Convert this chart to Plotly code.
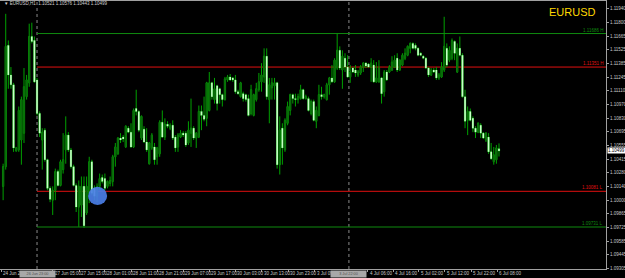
import plotly.graph_objects as go

# ---------------- data (EURUSD H1) ----------------
opens = [
    1.1014, 1.1034, 1.1157, 1.1127, 1.1117, 1.1050, 1.1051, 1.1061, 1.1068, 1.1105,
    1.1119, 1.1166, 1.1162, 1.1122, 1.1088, 1.1061, 1.1071, 1.1041, 1.1012, 1.1000,
    1.1010, 1.1029, 1.1015, 1.1031, 1.1051, 1.1066, 1.1051, 1.1034, 1.1015, 1.0993,
    1.0995, 1.1014, 1.0987, 1.1007, 1.1039, 1.1012, 1.1004, 1.1014, 1.1023, 1.1022,
    1.1014, 1.1017, 1.1019, 1.1044, 1.1047, 1.1063, 1.1064, 1.1054, 1.1073, 1.1069,
    1.1054, 1.1093, 1.1090, 1.1063, 1.1072, 1.1059, 1.1037, 1.1053, 1.1054, 1.1044,
    1.1047, 1.1079, 1.1064, 1.1077, 1.1073, 1.1076, 1.1064, 1.1054, 1.1064, 1.1068,
    1.1068, 1.1058, 1.1068, 1.1073, 1.1063, 1.1064, 1.1090, 1.1086, 1.1083, 1.1091,
    1.1119, 1.1102, 1.1116, 1.1113, 1.1107, 1.1102, 1.1122, 1.1125, 1.1124, 1.1122,
    1.1110, 1.1105, 1.1108, 1.1107, 1.1103, 1.1088, 1.1086, 1.1102, 1.1112, 1.1120,
    1.1125, 1.1146, 1.1102, 1.1114, 1.1116, 1.1119, 1.1036, 1.1073, 1.1051, 1.1078,
    1.1091, 1.1107, 1.1103, 1.1102, 1.1103, 1.1112, 1.1103, 1.1103, 1.1088, 1.1100,
    1.1080, 1.1086, 1.1107, 1.1105, 1.1102, 1.1117, 1.1124, 1.1120, 1.1134, 1.1152,
    1.1132, 1.1144, 1.1135, 1.1125, 1.1134, 1.1132, 1.1127, 1.1129, 1.1135, 1.1139,
    1.1138, 1.1135, 1.1137, 1.1120, 1.1120, 1.1124, 1.1110, 1.1130, 1.1130, 1.1132,
    1.1135, 1.1144, 1.1132, 1.1137, 1.1144, 1.1147, 1.1154, 1.1159, 1.1157, 1.1154,
    1.1149, 1.1146, 1.1144, 1.1134, 1.1127, 1.1132, 1.1132, 1.1124, 1.1125, 1.1132,
    1.1154, 1.1142, 1.1144, 1.1161, 1.1130, 1.1154, 1.1147, 1.1105, 1.1081, 1.1090,
    1.1083, 1.1073, 1.1069, 1.1076, 1.1068, 1.1061, 1.1064, 1.1049, 1.1039, 1.1041,
    1.10521,
]
highs = [
    1.1037, 1.1189, 1.1162, 1.1135, 1.1119, 1.1054, 1.1095, 1.1105, 1.1134, 1.1127,
    1.1179, 1.1180, 1.1166, 1.1124, 1.1090, 1.1073, 1.1073, 1.1042, 1.1014, 1.1014,
    1.1032, 1.1031, 1.1041, 1.1068, 1.1085, 1.1069, 1.1053, 1.1036, 1.1017, 1.1020,
    1.1024, 1.1024, 1.1024, 1.1044, 1.1041, 1.1015, 1.1017, 1.1027, 1.1026, 1.1027,
    1.1020, 1.1024, 1.1046, 1.1058, 1.1064, 1.1068, 1.1066, 1.1076, 1.1075, 1.1078,
    1.1093, 1.1112, 1.1091, 1.1086, 1.1075, 1.1073, 1.1059, 1.1068, 1.1058, 1.1054,
    1.1081, 1.1091, 1.1083, 1.1080, 1.1078, 1.1081, 1.1066, 1.1068, 1.1071, 1.1070,
    1.1070, 1.1080, 1.1103, 1.1075, 1.1069, 1.1096, 1.1096, 1.1105, 1.1120, 1.1130,
    1.1120, 1.1124, 1.1117, 1.1114, 1.1108, 1.1125, 1.1127, 1.1128, 1.1125, 1.1127,
    1.1112, 1.1120, 1.1110, 1.1108, 1.1107, 1.1117, 1.1108, 1.1119, 1.1129, 1.1139,
    1.1154, 1.1154, 1.1124, 1.1124, 1.1124, 1.1120, 1.1085, 1.1078, 1.1083, 1.1100,
    1.1108, 1.1108, 1.1108, 1.1108, 1.1117, 1.1113, 1.1107, 1.1105, 1.1102, 1.1102,
    1.1095, 1.1117, 1.1115, 1.1108, 1.1119, 1.1125, 1.1137, 1.1144, 1.1169, 1.1156,
    1.1152, 1.1149, 1.1147, 1.1137, 1.1135, 1.1137, 1.1132, 1.1137, 1.1140, 1.1140,
    1.1139, 1.1144, 1.1142, 1.1140, 1.1142, 1.1125, 1.1132, 1.1132, 1.1137, 1.1146,
    1.1147, 1.1149, 1.1143, 1.1149, 1.1154, 1.1157, 1.1160, 1.1160, 1.1159, 1.1155,
    1.1150, 1.1147, 1.1145, 1.1135, 1.1134, 1.1134, 1.1135, 1.1129, 1.1140, 1.1186,
    1.1159, 1.1156, 1.1164, 1.1162, 1.1159, 1.1166, 1.1149, 1.1112, 1.1095, 1.1093,
    1.1085, 1.1075, 1.1079, 1.1078, 1.1069, 1.1069, 1.1068, 1.1058, 1.1054, 1.1056,
    1.10576,
]
lows = [
    1.1000, 1.1031, 1.1113, 1.1113, 1.1049, 1.1049, 1.1049, 1.1036, 1.1058, 1.1102,
    1.1115, 1.1159, 1.1119, 1.1086, 1.1064, 1.1031, 1.1039, 1.1010, 1.0998, 1.0985,
    1.1000, 1.1014, 1.1014, 1.1027, 1.1037, 1.1049, 1.1032, 1.1014, 1.0988, 1.0973,
    1.0983, 1.0972, 1.0985, 1.0997, 1.1005, 1.1000, 1.0998, 1.1010, 1.1017, 1.1010,
    1.1012, 1.1014, 1.1014, 1.1034, 1.1046, 1.1058, 1.1059, 1.1053, 1.1068, 1.1053,
    1.1053, 1.1086, 1.1069, 1.1061, 1.1058, 1.1049, 1.1036, 1.1051, 1.1036, 1.1036,
    1.1044, 1.1063, 1.1061, 1.1073, 1.1071, 1.1061, 1.1049, 1.1049, 1.1063, 1.1064,
    1.1054, 1.1056, 1.1054, 1.1061, 1.1053, 1.1063, 1.1071, 1.1080, 1.1075, 1.1090,
    1.1102, 1.1098, 1.1091, 1.1098, 1.1095, 1.1101, 1.1120, 1.1121, 1.1120, 1.1108,
    1.1107, 1.1104, 1.1100, 1.1100, 1.1085, 1.1086, 1.1085, 1.1100, 1.1110, 1.1110,
    1.1119, 1.1102, 1.1078, 1.1102, 1.1102, 1.1032, 1.1026, 1.1036, 1.1049, 1.1076,
    1.1086, 1.1098, 1.1095, 1.1098, 1.1102, 1.1102, 1.1102, 1.1090, 1.1086, 1.1080,
    1.1073, 1.1085, 1.1102, 1.1103, 1.1101, 1.1107, 1.1119, 1.1119, 1.1132, 1.1132,
    1.1113, 1.1130, 1.1124, 1.1119, 1.1129, 1.1125, 1.1125, 1.1127, 1.1130, 1.1134,
    1.1134, 1.1120, 1.1119, 1.1119, 1.1119, 1.1098, 1.1105, 1.1121, 1.1129, 1.1131,
    1.1134, 1.1130, 1.1131, 1.1136, 1.1142, 1.1146, 1.1149, 1.1153, 1.1152, 1.1146,
    1.1146, 1.1143, 1.1133, 1.1125, 1.1126, 1.1129, 1.1122, 1.1122, 1.1124, 1.1130,
    1.1135, 1.1140, 1.1142, 1.1142, 1.1129, 1.1146, 1.1104, 1.1073, 1.1066, 1.1080,
    1.1069, 1.1063, 1.1068, 1.1063, 1.1062, 1.1059, 1.1047, 1.1041, 1.1036, 1.1037,
    1.10443,
]
closes = [
    1.1034, 1.1156, 1.1127, 1.1117, 1.1053, 1.1053, 1.1091, 1.1102, 1.1115, 1.1122,
    1.1166, 1.1161, 1.1120, 1.1088, 1.1068, 1.1069, 1.1041, 1.1012, 1.1001, 1.1010,
    1.1029, 1.1015, 1.1039, 1.1041, 1.1066, 1.1051, 1.1034, 1.1015, 1.0993, 1.1014,
    1.1014, 1.0974, 1.1014, 1.1039, 1.1007, 1.1004, 1.1014, 1.1022, 1.1019, 1.1012,
    1.1019, 1.1020, 1.1044, 1.1054, 1.1063, 1.1061, 1.1062, 1.1075, 1.1069, 1.1054,
    1.1091, 1.1090, 1.1071, 1.1085, 1.1059, 1.1051, 1.1058, 1.1066, 1.1041, 1.1053,
    1.1079, 1.1064, 1.1077, 1.1075, 1.1076, 1.1063, 1.1053, 1.1066, 1.1068, 1.1066,
    1.1056, 1.1071, 1.1073, 1.1063, 1.1068, 1.1090, 1.1086, 1.1082, 1.1119, 1.1119,
    1.1105, 1.1113, 1.1098, 1.1107, 1.1102, 1.1123, 1.1125, 1.1122, 1.1122, 1.1110,
    1.1108, 1.1119, 1.1103, 1.1102, 1.1086, 1.1112, 1.1107, 1.1113, 1.1120, 1.1127,
    1.1146, 1.1105, 1.1117, 1.1119, 1.1119, 1.1036, 1.1071, 1.1053, 1.1081, 1.1095,
    1.1107, 1.1103, 1.1102, 1.1105, 1.1112, 1.1103, 1.1105, 1.1091, 1.1100, 1.1081,
    1.1091, 1.1107, 1.1105, 1.1107, 1.1117, 1.1124, 1.1120, 1.1142, 1.1152, 1.1134,
    1.1146, 1.1135, 1.1125, 1.1130, 1.1130, 1.1129, 1.1130, 1.1135, 1.1139, 1.1136,
    1.1135, 1.1139, 1.1120, 1.1124, 1.1134, 1.1108, 1.1130, 1.1122, 1.1135, 1.1140,
    1.1142, 1.1132, 1.1142, 1.1147, 1.1149, 1.1156, 1.1159, 1.1154, 1.1154, 1.1147,
    1.1147, 1.1144, 1.1134, 1.1127, 1.1132, 1.1130, 1.1124, 1.1127, 1.1135, 1.1156,
    1.1137, 1.1152, 1.1162, 1.1149, 1.1154, 1.1147, 1.1105, 1.1080, 1.1090, 1.1081,
    1.1073, 1.1069, 1.1078, 1.1068, 1.1063, 1.1068, 1.1049, 1.1042, 1.1046, 1.1053,
    1.10499,
]

# x-axis time labels (position in bar index, text)
time_label_pos = [-0.8, 19.1, 29.1, 39.0, 49.1, 59.1, 69.0, 79.0, 89.0, 99.1,
                  109.2, 119.5, 139.8, 149.5, 159.3, 169.3, 179.4, 189.3]
time_label_text = ["24 Jun 2017", "27 Jun 05:00", "27 Jun 15:00", "28 Jun 01:00",
                   "28 Jun 11:00", "28 Jun 21:00", "29 Jun 07:00", "29 Jun 17:00",
                   "30 Jun 03:00", "30 Jun 13:00", "30 Jun 23:00", "3 Jul 09:00",
                   "4 Jul 06:00", "4 Jul 16:00", "5 Jul 02:00", "5 Jul 12:00",
                   "5 Jul 22:00", "6 Jul 08:00"]

# price axis ticks
price_ticks = [1.11940, 1.11800, 1.11665, 1.11525, 1.11385, 1.11245, 1.11110,
               1.10970, 1.10830, 1.10695, 1.10555, 1.10415, 1.10280, 1.10140,
               1.10000, 1.09865, 1.09725, 1.09585, 1.09445, 1.09305]

# horizontal levels (price, label, colour)
level_prices = [1.11690, 1.11350, 1.10090, 1.09728]
level_labels = ["1.11686 H", "1.11351 H", "1.10081 L", "1.09731 L"]
level_colors = ["#0f8a0f", "#e01010", "#e01010", "#0f8a0f"]

# vertical dotted lines (bar index, axis label)
vline_pos = [13.0, 132.5]
vline_text = ["26 Jun 23:00", "3 Jul 22:00"]

# blue marker (bar index, price)
marker_center = (36.2, 1.10043)

symbol = "EURUSD"
header = "\u25BC EURUSD,H1  1.10521 1.10576 1.10443 1.10499"
last_price = closes[-1]

# ---------------- figure ----------------
n = len(opens)
idx = list(range(n))
FONT = "Liberation Sans"
WICK = "#00a000"
BULL = "#0a6a0a"
BEAR = "#c8ffc8"

fig = go.Figure()
fig.add_trace(go.Candlestick(
    x=idx, open=opens, high=highs, low=lows, close=closes,
    increasing=dict(line=dict(color=WICK, width=1), fillcolor=BULL),
    decreasing=dict(line=dict(color=WICK, width=1), fillcolor=BEAR),
    whiskerwidth=0, hoverinfo="skip", showlegend=False,
))

bx_up, by_up, bx_dn, by_dn = [], [], [], []
for i in idx:
    if closes[i] >= opens[i]:
        bx_up += [i, i, None]
        by_up += [opens[i], closes[i], None]
    else:
        bx_dn += [i, i, None]
        by_dn += [opens[i], closes[i], None]
fig.add_trace(go.Scatter(x=bx_up, y=by_up, mode="lines",
                         line=dict(color=BULL, width=1.6), hoverinfo="skip",
                         showlegend=False))
fig.add_trace(go.Scatter(x=bx_dn, y=by_dn, mode="lines",
                         line=dict(color=BEAR, width=1.6), hoverinfo="skip",
                         showlegend=False))

shapes = []
x_end = 231.0
for p, c in zip(level_prices, level_colors):
    shapes.append(dict(type="line", xref="x", yref="y", x0=vline_pos[0], x1=x_end,
                       y0=p, y1=p, line=dict(color=c, width=1), layer="below"))
for v in vline_pos:
    shapes.append(dict(type="line", xref="x", yref="paper", x0=v, x1=v, y0=0, y1=1,
                       line=dict(color="#8a8a8a", width=1, dash="dot"), layer="below"))
cx, cy = marker_center
shapes.append(dict(type="circle", xref="x", yref="y", x0=cx - 3.65, x1=cx + 3.65,
                   y0=cy - 0.00092, y1=cy + 0.00092, fillcolor="#4a7ee6",
                   line=dict(width=0), opacity=0.92, layer="above"))

ann = []
for p, t, c in zip(level_prices, level_labels, level_colors):
    ann.append(dict(xref="paper", yref="y", x=0.998, y=p, text=t, showarrow=False,
                    xanchor="right", yanchor="bottom", yshift=-1,
                    font=dict(family=FONT, size=4.5, color=c)))
for pos, t in zip(time_label_pos, time_label_text):
    ann.append(dict(xref="x", yref="paper", x=pos, y=-0.017, text=t, showarrow=False,
                    xanchor="left", yanchor="middle",
                    font=dict(family=FONT, size=4.5, color="#c8c8c8")))
for v, t in zip(vline_pos, vline_text):
    ann.append(dict(xref="x", yref="paper", x=v, y=-0.018, text=t, showarrow=False,
                    xanchor="center", yanchor="middle", width=35, height=6,
                    bgcolor="#a8a8a8", borderpad=0,
                    font=dict(family=FONT, size=3.8, color="#505050")))
ann.append(dict(xref="paper", yref="y", x=1.0, y=last_price, text=f"{last_price:.5f}",
                showarrow=False, xanchor="left", yanchor="middle", xshift=1,
                width=17, height=5, bgcolor="#ffffff", borderpad=0,
                font=dict(family=FONT, size=4.5, color="#000000")))
ann.append(dict(xref="paper", yref="paper", x=0.004, y=0.989, text=header,
                showarrow=False, xanchor="left", yanchor="middle",
                font=dict(family=FONT, size=4.5, color="#d0d0d0")))
ann.append(dict(xref="paper", yref="paper", x=0.987, y=0.958, text=symbol,
                showarrow=False, xanchor="right", yanchor="middle",
                font=dict(family=FONT, size=11, color="#ffd800")))

fig.update_layout(
    width=625, height=278,
    margin=dict(l=0, r=19, t=1, b=9),
    paper_bgcolor="#000000", plot_bgcolor="#000000",
    showlegend=False, shapes=shapes, annotations=ann,
    xaxis=dict(range=[-1.19, x_end], showgrid=False, zeroline=False,
               showline=True, linecolor="#a0a0a0", linewidth=1, mirror=True,
               tickvals=time_label_pos, showticklabels=False,
               ticks="outside", ticklen=2, tickcolor="#a0a0a0",
               rangeslider=dict(visible=False), automargin=False),
    yaxis=dict(range=[1.09302, 1.12020], side="right", showgrid=False,
               zeroline=False, showline=True, linecolor="#a0a0a0", linewidth=1,
               mirror=True, tickvals=price_ticks,
               ticktext=[f"{v:.5f}" for v in price_ticks],
               ticks="outside", ticklen=2, tickcolor="#a0a0a0",
               tickfont=dict(family=FONT, size=4.5, color="#c8c8c8"),
               automargin=False),
)

fig.write_html("out.html")
